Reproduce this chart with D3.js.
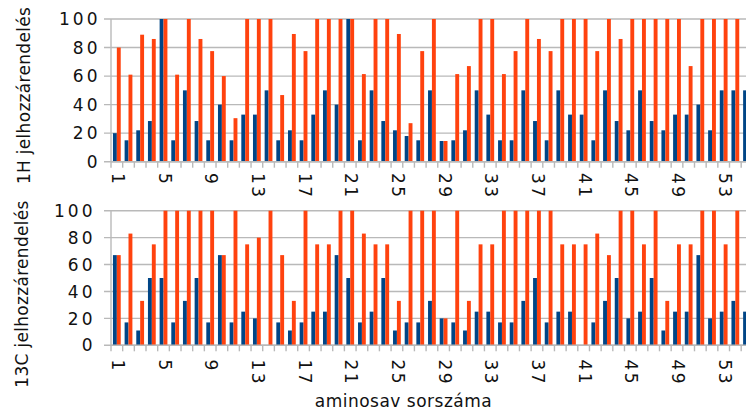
<!DOCTYPE html>
<html><head><meta charset="utf-8">
<script src="https://cdn.jsdelivr.net/npm/d3@7/dist/d3.min.js"></script>
<style>html,body{margin:0;padding:0;background:#fff;overflow:hidden}</style>
</head><body><svg id="c" width="746" height="410"></svg>
<script>
const categories = d3.range(1, 56);
const tickLabels = [1, 5, 9, 13, 17, 21, 25, 29, 33, 37, 41, 45, 49, 53];
const yTicks = [0, 20, 40, 60, 80, 100];
const seriesColors = ["#004586", "#ff420e"];

const blue1H = [20,15,22,28.5,100,15,50,28.5,15,40,15,33,
  33,50,15,22,15,33,50,40,100,15,50,28.5,22,18,15,50,14.5,15,22,50,33,15,
  15,50,28.5,15,50,33,33,15,50,28.5,22,50,28.5,22,33,33,40,22,50,50,50];
const orange1H = [80,61,89,86,100,61,100,86,77.5,60,30.5,100,
  100,100,46.7,89.5,77.5,100,100,100,100,61.4,100,100,89.5,27,77.5,100,14.5,61.4,67,100,100,61.4,
  77.5,100,86,77.5,100,100,100,77.5,100,86,100,100,100,100,100,67,100,100,100,100,100];
const blue13C = [67,17,11,50,50,17,33,50,17,67,17,25,20,
  0,17,11,17,25,25,67,50,17,25,50,11,17,17,
  33,20,17,11,25,25,17,17,33,50,17,25,25,0,
  17,33,50,20,25,50,11,25,25,67,20,25,33,25];
const orange13C = [67,83,33,75,100,100,100,100,100,67,100,75,80,
  100,67,33,100,75,75,100,100,83,75,75,33,100,100,
  100,20,100,33,75,75,100,100,100,100,100,75,75,75,
  83,67,100,100,75,100,33,75,75,100,100,75,100,75];

const svg = d3.select("#c");
const font = "'DejaVu Sans', sans-serif";
const step = 11.67;
const x0 = 111;
const x = d3.scaleBand().domain(categories).range([x0, x0 + categories.length * step]).paddingInner(0).paddingOuter(0);
const xs = d3.scaleBand().domain([0, 1]).range([0, x.bandwidth()]).paddingInner(0).paddingOuter(0.5);

const panels = [
  {title: "1H jelhozzárendelés", series: [blue1H, orange1H], yTop: 19, yBot: 161.7,
   labelRight: 100.5, titleX: 29.5, titleY: 95.5, xLabelY: 173},
  {title: "13C jelhozzárendelés", series: [blue13C, orange13C], yTop: 210.7, yBot: 345.3,
   labelRight: 95.5, titleX: 27.5, titleY: 294, xLabelY: 359.5}
];

panels.forEach(p => {
  const y = d3.scaleLinear().domain([0, 100]).range([p.yBot, p.yTop]);
  const g = svg.append("g");
  g.selectAll("line.grid").data(yTicks).join("line")
    .attr("x1", 104).attr("x2", 746)
    .attr("y1", d => y(d)).attr("y2", d => y(d))
    .attr("stroke", "#b9b9b9").attr("stroke-width", 1.4);
  g.append("line").attr("x1", x0).attr("x2", x0).attr("y1", y(100)).attr("y2", y(0) + 6)
    .attr("stroke", "#b9b9b9").attr("stroke-width", 1.4);
  p.series.forEach((vals, si) => {
    g.selectAll(null).data(categories).join("rect")
      .attr("x", d => x(d) + xs(si))
      .attr("width", xs.bandwidth())
      .attr("y", (d, i) => y(vals[i]))
      .attr("height", (d, i) => y(0) - y(vals[i]))
      .attr("fill", seriesColors[si]);
  });
  g.append("line").attr("x1", x0).attr("x2", 746).attr("y1", y(0)).attr("y2", y(0))
    .attr("stroke", "#b9b9b9").attr("stroke-width", 1.4);
  g.selectAll(null).data(categories).join("line")
    .attr("x1", d => x(d) + step).attr("x2", d => x(d) + step)
    .attr("y1", y(0)).attr("y2", y(0) + 6)
    .attr("stroke", "#b9b9b9").attr("stroke-width", 1.4);
  g.selectAll(null).data(yTicks).join("text")
    .attr("x", p.labelRight).attr("y", d => y(d)).attr("dy", "0.36em")
    .attr("text-anchor", "end")
    .style("font-family", font).style("font-size", "17px").style("letter-spacing", "3px")
    .attr("fill", "#111").text(d => d);
  g.selectAll(null).data(tickLabels).join("text")
    .attr("transform", d => `translate(${x(d) + x.bandwidth() / 2 - 5},${p.xLabelY}) rotate(90)`)
    .style("font-family", font).style("font-size", "17px").style("letter-spacing", "2.5px")
    .attr("fill", "#111").text(d => d);
  g.append("text")
    .attr("transform", `translate(${p.titleX},${p.titleY}) rotate(-90)`)
    .attr("text-anchor", "middle")
    .style("font-family", font).style("font-size", "17px").style("letter-spacing", "0.3px")
    .attr("fill", "#111").text(p.title);
});

svg.append("text").attr("x", 403.5).attr("y", 407).attr("text-anchor", "middle")
  .style("font-family", font).style("font-size", "17px").style("letter-spacing", "0.5px")
  .attr("fill", "#111").text("aminosav sorszáma");
</script></body></html>
